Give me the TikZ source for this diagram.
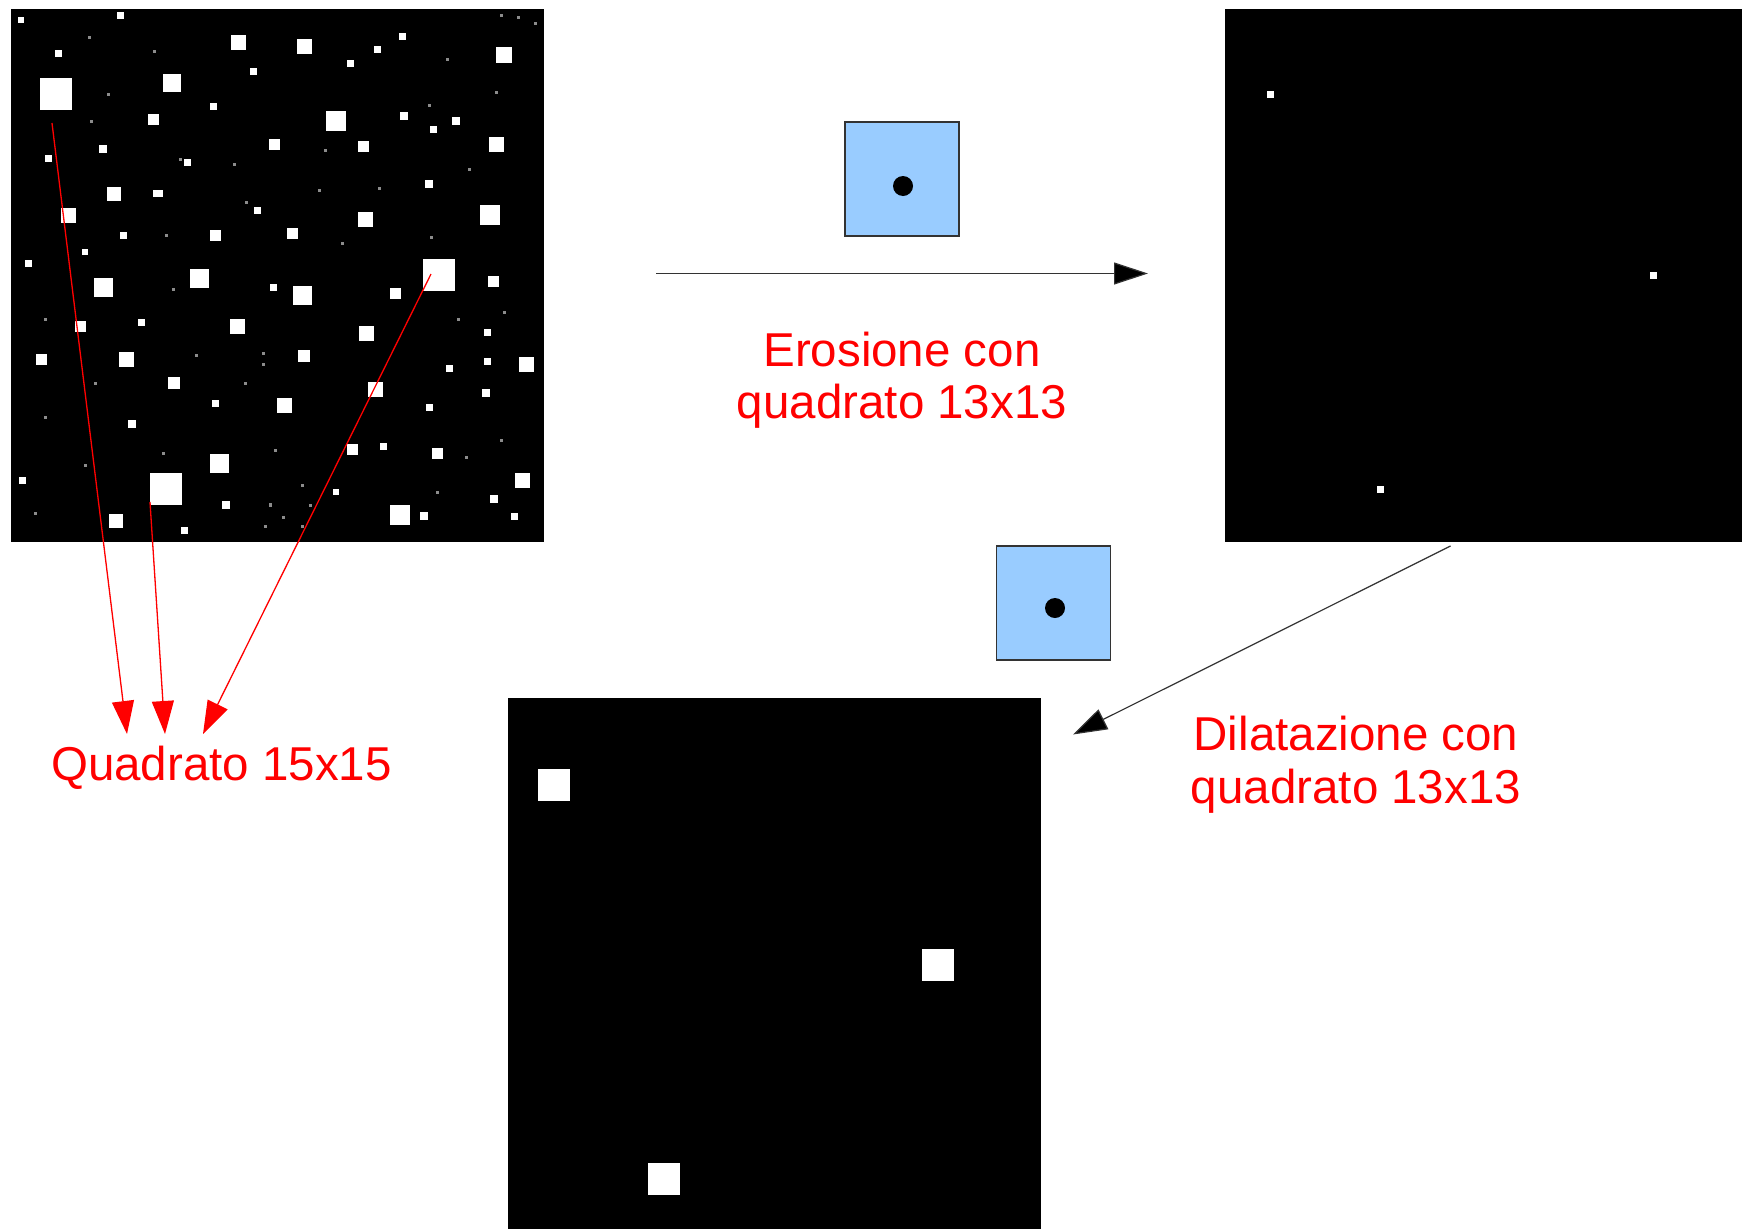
\documentclass[tikz,border=0pt]{standalone}
\usepackage{fontspec}
\setmainfont{Liberation Sans}
\usetikzlibrary{arrows.meta}
\definecolor{sebl}{HTML}{99CCFF}
\definecolor{lbl}{HTML}{FF0000}
\begin{document}
\begin{tikzpicture}[x=1pt,y=-1pt,
  img/.style={fill=black},
  bigsq/.style={fill=white,inner sep=0pt,minimum size=32pt,draw=none},
  sebox/.style={draw=black!80,line width=1.2pt,fill=sebl,inner sep=0pt,minimum size=114pt},
  redarr/.style={draw=lbl,line width=1.3pt,-{Triangle[length=33pt,width=22pt]},fill=lbl},
  blkarr/.style={draw=black!80,line width=1.2pt,-{Triangle[length=34pt,width=22pt,fill=black]}},
  lab/.style={text=lbl,align=center,inner sep=0pt,font=\fontsize{47.5}{52.5}\selectfont}
]
\useasboundingbox (0,0) rectangle (1742,1229);
\fill[white] (0,0) rectangle (1742,1229);

% ---------- image 1 (original) ----------
\fill[img] (11,9) rectangle (544,542);
\foreach \x/\y/\s in {20.7/19.7/6, 120/15/7, 238/42.7/15, 58/53.7/7, 253/71.7/7, 172.3/83.3/18, 213.3/106.7/7, 153/119/11, 274.3/144/11, 103.3/149/8, 48/158.7/7, 187/162.3/7, 114/194/14, 257/210.7/7, 68.7/215/15, 123/235.7/7, 215.3/235.3/11, 85/252/6, 28.7/263/7,
103.7/287.3/19, 199/278.7/19, 273.3/287.3/7, 80.7/326.7/11, 141.3/322.3/7, 237.7/326.7/15, 41.3/359.7/11, 126.7/359.7/15, 173.7/382.7/12, 215.3/403.7/7, 284/405/15, 132/423.7/8, 219.3/463.7/19, 22.3/480/7, 225.7/505.3/8, 116/521.3/14, 184.7/530/7,
304.3/46.7/15, 402.3/36/7, 377/49/7, 350.3/63/7, 504/54.7/16, 335.7/121/20, 403.7/115.7/8, 433.3/129.7/7, 456/121.3/8, 363.3/146.7/11, 496/144.3/15, 429.3/183.7/8, 365/219/15, 490.3/215/20, 292.3/233.3/11,
302.3/295.7/19, 395.3/293/11, 493.7/281.3/11, 487.3/332.7/7, 366.7/333.3/15, 304/355.7/12, 487.3/361.3/7, 526/364/15, 449.3/368.3/7, 375.3/389/15, 485.7/393/8, 429.3/407.7/7, 352.7/449.3/11, 383.3/446.7/7, 437.7/453.3/11, 522.7/480.7/15, 336.3/491.7/6, 493.7/498.7/8, 399.7/515.3/20, 423.7/516/8, 514.7/516/7}
  \fill[white] ({\x-\s/2},{\y-\s/2}) rectangle ++(\s,\s);
\fill[white] (153.3,190.2) rectangle ++(10,7);
\foreach \x/\y in {89/37.7, 154/51, 108/94.7, 91/121.3, 180.3/159.7, 234.3/164.3, 246/202, 166/235.3, 173.3/289.3, 45.7/319, 196.7/355.7, 263.3/353.3, 263.3/364, 95.3/383.3, 245.7/383.3, 45.7/417.7, 163.7/453, 275/450.7, 85/465.7, 270.3/504.7, 35.7/513.7, 265.3/526, 501.7/15.7, 518/17.7, 535/23, 447.7/59, 496/92, 429.3/105, 325.3/150.7, 469/169, 319.3/190, 379.7/188.3, 342.3/243.3, 431.7/237.7, 504/312.3, 458.7/319, 501.7/440.7, 466/457.7, 302.3/485, 437.7/492.7, 310.7/505, 270.7/505, 283.3/517.3, 302.3/526}
  \fill[black!45!white] ({\x-1.5},{\y-1.5}) rectangle ++(3,3);
\node[bigsq] (bigA) at (56,94) {};
\node[bigsq] (bigB) at (165.7,488.7) {};
\node[bigsq] (bigC) at (439.3,275) {};

% ---------- image 2 (eroded) ----------
\fill[img] (1225,9) rectangle (1742,542);
\foreach \x/\y in {1270/94, 1653/275, 1380/489}
  \fill[white] ({\x-3.5},{\y-3.5}) rectangle ++(7,7);

% ---------- image 3 (dilated) ----------
\fill[img] (508,698) rectangle (1041,1229);
\node[bigsq] (dA) at (554,785) {};
\node[bigsq] (dC) at (937.5,965) {};
\node[bigsq] (dB) at (663.5,1179) {};

% ---------- structuring elements ----------
\node[sebox] (se1) at (902,179) {};
\fill[black] (903,186) circle (10);
\node[sebox] (se2) at (1053.4,603) {};
\fill[black] (1055,608) circle (10);

% ---------- labels (anchor = baseline of last line) ----------
\node[lab,anchor=base] (ero) at (902,418.5) {Erosione con\\quadrato 13x13};
\node[lab,anchor=base] (dil) at (1356,803) {Dilatazione con\\quadrato 13x13};
\node[lab,anchor=base] (q15) at (221.5,780.5) {Quadrato 15x15};

% ---------- connectors ----------
\coordinate (e1s) at (656,273.5);
\coordinate (e1e) at (1148,273.5);
\coordinate (e2s) at (1450.5,546);
\coordinate (e2e) at (1073,734.5);
\draw[blkarr] (e1s) -- (e1e);
\draw[blkarr] (e2s) -- (e2e);

\coordinate (rAs) at (52,123);
\coordinate (rBs) at (150,502);
\coordinate (rCs) at (431,274);
\coordinate (rAe) at (127,734);
\coordinate (rBe) at (165,734);
\coordinate (rCe) at (203,734);
\draw[redarr] (rAs) -- (rAe);
\draw[redarr] (rBs) -- (rBe);
\draw[redarr] (rCs) -- (rCe);
\end{tikzpicture}
\end{document}
